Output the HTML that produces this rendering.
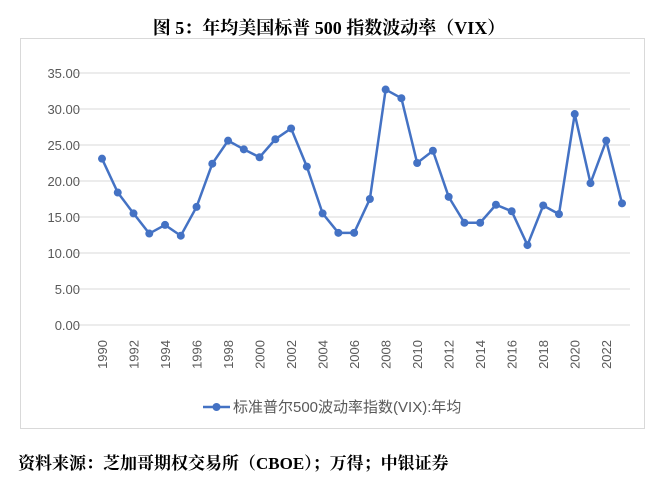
<!DOCTYPE html>
<html><head><meta charset="utf-8"><style>
body{margin:0;width:658px;height:487px;background:#fff;overflow:hidden;font-family:"Liberation Sans","Noto Sans CJK SC",sans-serif}
.t{position:absolute;font-family:"Liberation Serif","Noto Serif CJK SC",serif;font-weight:bold;color:#000}
</style></head><body>
<div class="t" style="left:0;width:658px;top:14px;text-align:center;font-size:18px">图 5：年均美国标普 500 指数波动率（VIX）</div>
<svg id="c" width="658" height="487" style="position:absolute;left:0;top:0">
<rect x="20.5" y="38.5" width="624" height="390" fill="none" stroke="#d9d9d9"/>
</svg>
<div class="t" style="left:18px;top:449px;font-size:17px">资料来源：芝加哥期权交易所（CBOE）；万得；中银证券</div>
<script>
const years=[1990,1991,1992,1993,1994,1995,1996,1997,1998,1999,2000,2001,2002,2003,2004,2005,2006,2007,2008,2009,2010,2011,2012,2013,2014,2015,2016,2017,2018,2019,2020,2021,2022,2023];
const vix=[23.1,18.4,15.5,12.7,13.9,12.4,16.4,22.4,25.6,24.4,23.3,25.8,27.3,22.0,15.5,12.8,12.8,17.5,32.7,31.5,22.5,24.2,17.8,14.2,14.2,16.7,15.8,11.1,16.6,15.4,29.3,19.7,25.6,16.9];
const yTicks=[0,5,10,15,20,25,30,35];
const svg=document.getElementById('c'),NS='http://www.w3.org/2000/svg';
const x=i=>102+i*(520/33), y=v=>325-v*7.2;
function mk(t,a){const e=document.createElementNS(NS,t);for(const k in a)e.setAttribute(k,a[k]);svg.appendChild(e);return e;}
yTicks.forEach(v=>{
 const g=mk('line',{x1:75,x2:630,y1:y(v),y2:y(v),stroke:'#d9d9d9'});
 
 
 const t=mk('text',{x:80,y:y(v)+5,'text-anchor':'end','font-size':13,fill:'#595959'});
 t.textContent=v.toFixed(2);
 
 
});
years.forEach((yr,i)=>{ if(i%2)return;
 const t=mk('text',{transform:`translate(${x(i)+5},340) rotate(-90)`,'text-anchor':'end','font-size':13,fill:'#595959'});
 t.textContent=yr;
 
 
});
const p=mk('polyline',{points:vix.map((v,i)=>x(i)+','+y(v)).join(' '),fill:'none',stroke:'#4472c4','stroke-width':2.5});


vix.forEach((v,i)=>{
 const c=mk('circle',{cx:x(i),cy:y(v),r:4,fill:'#4472c4'});
 
 
});
const ll=mk('line',{x1:203,x2:230,y1:407,y2:407,stroke:'#4472c4','stroke-width':2.5});


const lc=mk('circle',{cx:216.5,cy:407,r:4,fill:'#4472c4'});


const lt=mk('text',{x:233,y:412,'font-size':15,fill:'#595959'});
lt.textContent='标准普尔500波动率指数(VIX):年均';


</script>
</body></html>
